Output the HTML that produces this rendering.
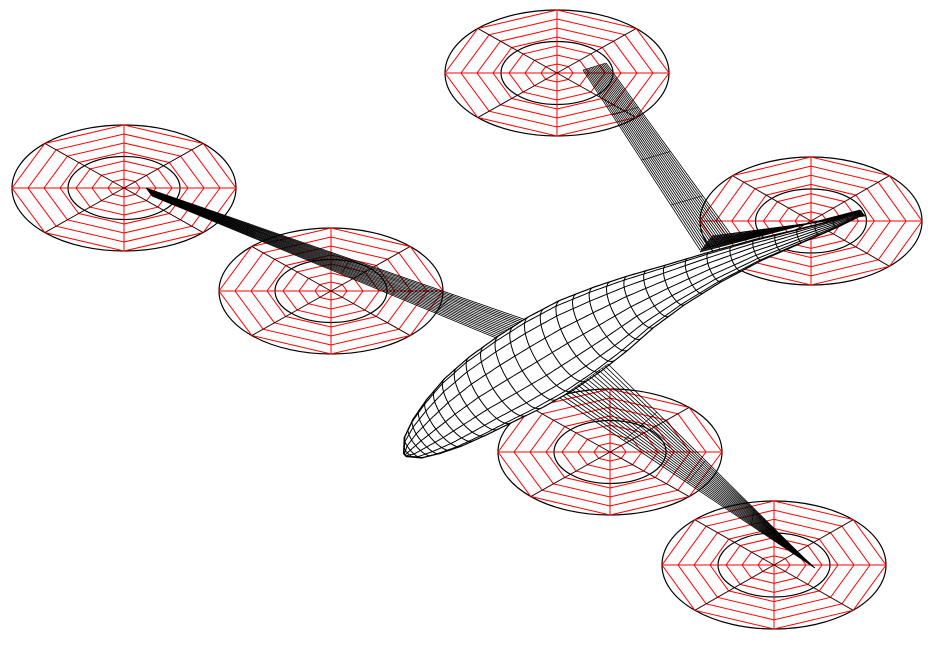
<!DOCTYPE html>
<html><head><meta charset="utf-8"><style>html,body{margin:0;padding:0;background:#fff}svg{display:block}</style></head>
<body>
<svg id="c" width="938" height="645" viewBox="0 0 938 645" xmlns="http://www.w3.org/2000/svg"></svg>
<script>
const rotorX = [557, 124, 331, 811, 610, 774];
const rotorY = [73, 188, 291, 221, 452, 565];
const rotorRX = [112, 112, 112, 111, 112, 112];
const rotorRY = [63, 63, 63, 64, 63, 64];
const ringCount = 7;
const stationX = [405,414,427,444,465,490,520,550,580,610,640,675,715,758,800,835,862];
const stationY = [455,447,436,423,407,390,372,354,336,319,302,285,267,250,236,224,213];
const stationR = [2,14,22,29,35,39,42,43,41,36,29,22,16,11,7,4,2];
const NS = 'http://www.w3.org/2000/svg';
const svg = document.getElementById('c');
function mk(tag, attrs, parent) {
  const e = document.createElementNS(NS, tag);
  for (const k in attrs) e.setAttribute(k, attrs[k]);
  (parent || svg).appendChild(e);
  return e;
}
function line(x1,y1,x2,y2,col,w,p){return mk('line',{x1,y1,x2,y2,stroke:col,'stroke-width':w||1},p);}
function drawRotor(i){
  const g = mk('g',{});
  
  
  const cx=rotorX[i], cy=rotorY[i], rx=rotorRX[i], ry=rotorRY[i];
  mk('ellipse',{cx,cy,rx,ry,fill:'none',stroke:'#000','stroke-width':1.2},g);
  mk('ellipse',{cx,cy,rx:rx*0.5,ry:ry*0.5,fill:'none',stroke:'#000','stroke-width':1.2},g);
  for(let k=1;k<=ringCount;k++){
    const r=k/ringCount; let pts=[];
    for(let a=0;a<8;a++){const t=a*Math.PI/4;pts.push((cx+r*rx*Math.cos(t)).toFixed(1)+','+(cy+r*ry*Math.sin(t)).toFixed(1));}
    mk('polygon',{points:pts.join(' '),fill:'none',stroke:'#f00','stroke-width':1},g);
  }
  for(let a=0;a<8;a++){const t=a*Math.PI/4;
    line(cx,cy,cx+rx*Math.cos(t),cy+ry*Math.sin(t),a%2?'#300':'#f00',1,g);}
}
for(let i=0;i<rotorX.length;i++) drawRotor(i);

function band(name, tipA,tipB,rootA,rootB,n,chords){
  const g=mk('g',{});
  
  
  for(let k=0;k<=n;k++){const t=k/n;
    line(tipA[0]+(tipB[0]-tipA[0])*t,tipA[1]+(tipB[1]-tipA[1])*t,rootA[0]+(rootB[0]-rootA[0])*t,rootA[1]+(rootB[1]-rootA[1])*t,'#000',0.8,g);}
  for(let k=0;k<=chords;k++){const t=k/chords;
    line(tipA[0]+(rootA[0]-tipA[0])*t,tipA[1]+(rootA[1]-tipA[1])*t,tipB[0]+(rootB[0]-tipB[0])*t,tipB[1]+(rootB[1]-tipB[1])*t,'#000',0.6,g);}
}
band('left-wing',[146,188],[152,196],[555,330],[530,352],16,4);
band('rear-boom',[583,70],[606,63],[700,250],[735,240],16,4);
band('horizontal-tail',[700,252],[712,236],[860,210],[865,216],14,3);

const fg=mk('g',{});


const N=stationX.length;
function tang(i){const a=Math.max(0,i-1), b=Math.min(N-1,i+1);
  let tx=stationX[b]-stationX[a], ty=stationY[b]-stationY[a]; const l=Math.hypot(tx,ty); return [tx/l,ty/l];}
function station(s){
  const i=Math.min(N-2,Math.floor(s)), f=s-i;
  const x=stationX[i]+(stationX[i+1]-stationX[i])*f, y=stationY[i]+(stationY[i+1]-stationY[i])*f, r=stationR[i]+(stationR[i+1]-stationR[i])*f;
  const t0=tang(i), t1=tang(i+1); let tx=t0[0]*(1-f)+t1[0]*f, ty=t0[1]*(1-f)+t1[1]*f; const l=Math.hypot(tx,ty);
  return {x,y,r,tx:tx/l,ty:ty/l};
}
function pt(s,phi){const q=station(s);const nx=-q.ty, ny=q.tx;
  return [q.x+nx*q.r*Math.cos(phi)-q.tx*q.r*0.35*Math.sin(phi), q.y+ny*q.r*Math.cos(phi)-q.ty*q.r*0.35*Math.sin(phi)];}
let od='';
const M=160;
for(let k=0;k<=M;k++){const p=pt(k*(N-1)/M,0);od+=(k?'L':'M')+p[0].toFixed(1)+','+p[1].toFixed(1);}
for(let k=M;k>=0;k--){const p=pt(k*(N-1)/M,Math.PI);od+='L'+p[0].toFixed(1)+','+p[1].toFixed(1);}
mk('path',{d:od+'Z',fill:'#fff',stroke:'#000','stroke-width':1.2},fg);
for(let k=1;k<2*(N-1);k++){const s=k/2;let d='';
  for(let j=0;j<=18;j++){const p=pt(s,j*Math.PI/18);d+=(j?'L':'M')+p[0].toFixed(1)+','+p[1].toFixed(1);}
  mk('path',{d,fill:'none',stroke:'#000','stroke-width':1},fg);}
for(let j=1;j<8;j++){const phi=j*Math.PI/8;let d='';
  for(let k=0;k<=M;k++){const p=pt(k*(N-1)/M,phi);d+=(k?'L':'M')+p[0].toFixed(1)+','+p[1].toFixed(1);}
  mk('path',{d,fill:'none',stroke:'#000','stroke-width':1},fg);}
band('right-wing',[608,364],[560,398],[803,557],[815,568],16,4);
</script>
</body></html>
